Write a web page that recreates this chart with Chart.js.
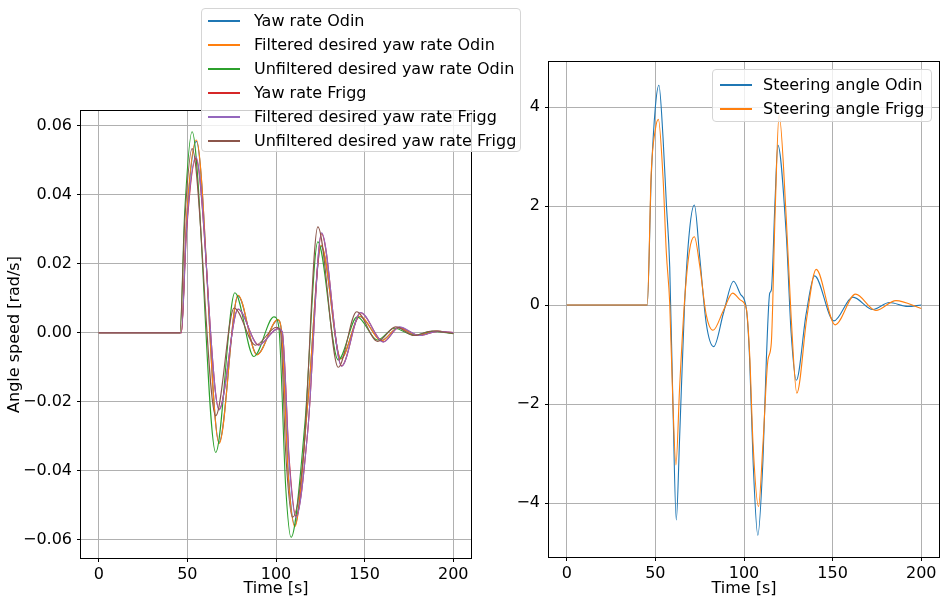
<!DOCTYPE html>
<html>
<head>
<meta charset="utf-8">
<script src="https://cdn.jsdelivr.net/npm/chart.js@4/dist/chart.umd.min.js"></script>
<style>
  body { margin: 0; width: 941px; height: 601px; background: #fff; overflow: hidden; font-family: "DejaVu Sans", sans-serif; }
  canvas { position: absolute; top: 0; }
  #leftChart { left: 0; }
  #rightChart { left: 480px; }
  .legend { position: absolute; background: rgba(255,255,255,0.8); border: 1px solid #d5d5d5; border-radius: 4px; box-sizing: border-box; z-index: 2; }
  .row { position: absolute; left: 0; height: 0; }
  .row .sw { position: absolute; width: 32px; height: 0; top: -1px; border-top: 2px solid; }
  .row span { position: absolute; top: -10px; font-size: 16px; line-height: 19px; white-space: nowrap; color: #000; }
</style>
</head>
<body>
<canvas id="leftChart" width="480" height="601"></canvas>
<canvas id="rightChart" width="461" height="601"></canvas>
<div id="legLeft" class="legend" style="left:201px; top:8px; width:320px; height:144px;"></div>
<div id="legRight" class="legend" style="left:712px; top:69px; width:220px; height:53px;"></div>
<script>
'use strict';

// time axes (s)
const xTicks = [0, 50, 100, 150, 200];
const leftYTicks = [-0.06, -0.04, -0.02, 0, 0.02, 0.04, 0.06];
const rightYTicks = [-4, -2, 0, 2, 4];

// left plot: yaw rates (rad/s)
const timeYawOdin = [0, 46.6, 49.5, 55.1, 67.9, 78.6, 89.3, 101.0, 103, 107, 110.6, 118, 125.5, 136.6, 147.3, 159.6, 168.9, 180, 190, 200];
const yawRateOdin = [0, 0, 0.032, 0.0555, -0.0318, 0.0107, -0.0063, 0.0037, 0.001, -0.041, -0.0558, -0.02, 0.0250, -0.0075, 0.0047, -0.0022, 0.0014, -0.0008, 0.0005, -0.0002];
const filtYawOdin = [0, 0, 0.033, 0.0559, -0.0321, 0.0109, -0.0064, 0.0038, 0.001, -0.042, -0.0562, -0.02, 0.0253, -0.0076, 0.0048, -0.0023, 0.0015, -0.0008, 0.0005, -0.0002];

const timeUnfOdin = [0, 45.8, 48.5, 52.7, 66.0, 76.8, 87.5, 98.8, 101.5, 105.5, 108.5, 116.3, 123.6, 135.1, 145.8, 157.3, 166.7, 178, 188, 200];
const unfYawOdin = [0, 0, 0.035, 0.0583, -0.0347, 0.0116, -0.0069, 0.0046, 0.002, -0.045, -0.0593, -0.0263, 0.0264, -0.0079, 0.0046, -0.0021, 0.0013, -0.0007, 0.0004, -0.0003];

const timeYawFrigg = [0, 46.6, 49.5, 54.8, 67.9, 78.6, 90.2, 101.2, 103.5, 107.5, 111.2, 118, 125.7, 137, 147.7, 160.6, 169.5, 181, 191, 200];
const yawRateFrigg = [0, 0, 0.029, 0.0505, -0.0222, 0.0068, -0.0035, 0.0012, 0.0003, -0.037, -0.0532, -0.028, 0.0287, -0.0096, 0.0058, -0.0026, 0.0016, -0.0008, 0.0004, 0.0001];
const filtYawFrigg = [0, 0, 0.03, 0.0510, -0.0224, 0.0069, -0.0036, 0.0012, 0.0003, -0.038, -0.0536, -0.028, 0.0290, -0.0097, 0.0059, -0.0027, 0.0017, -0.0008, 0.0004, 0.0001];

const timeUnfFrigg = [0, 45.8, 48.5, 52.7, 66.0, 76.4, 88.4, 100.3, 102.5, 105.5, 109.3, 115.4, 123.6, 135.1, 145.5, 157.3, 167.5, 178, 188, 200];
const unfYawFrigg = [0, 0, 0.032, 0.0534, -0.0241, 0.0072, -0.0036, 0.0016, 0.0005, -0.035, -0.0535, -0.036, 0.0307, -0.0100, 0.0061, -0.0025, 0.0017, -0.0008, 0.0005, -0.0002];

// right plot: steering angles
const timeSteerOdin = [0, 45.4, 47.7, 50, 52.0, 54.3, 56.2, 58.1, 59.9, 61.8, 63.7, 66.5, 69.3, 72.0, 75.0, 78.7, 82.9, 88.5, 94.1, 98, 101.3, 103.2, 105.1, 107.8, 110.7, 112.6, 114.5, 115.4, 117.5, 119.1, 123.8, 126.6, 129.5, 135.1, 139.8, 150.7, 161.4, 172.7, 182, 192.4, 200];
const steerOdin = [0, 0, 2.6, 4.0, 4.44, 3.40, 2.05, 0.77, -1.99, -4.34, -2.66, 0.03, 1.52, 2.02, 0.98, -0.37, -0.84, -0.15, 0.48, 0.22, -0.07, -1.11, -3.13, -4.65, -3.13, -1.11, 0.24, 0.30, 2.1, 3.23, 1.45, -0.57, -1.52, -0.17, 0.59, -0.32, 0.16, -0.09, 0.05, -0.03, 0.0];

const timeSteerFrigg = [0, 45.4, 47.7, 50, 51.7, 54.3, 56.2, 58.1, 59.9, 61.6, 63.7, 66.5, 69.3, 72.0, 75.0, 78.7, 82.5, 88.5, 93.6, 98, 101.3, 103.2, 105.1, 108.2, 110.7, 113.5, 115.4, 117.5, 119.8, 123.8, 126.6, 129.8, 135.5, 140.7, 151.4, 162.9, 174.4, 185.7, 200];
const steerFrigg = [0, 0, 2.7, 3.55, 3.75, 2.59, 1.05, 0.03, -1.99, -3.23, -1.65, 0.1, 1.11, 1.38, 0.8, -0.2, -0.51, -0.1, 0.24, 0.1, -0.07, -1.0, -2.8, -4.07, -2.8, -1.11, -0.77, 1.8, 3.84, 1.78, -0.24, -1.78, -0.24, 0.72, -0.40, 0.22, -0.11, 0.09, -0.07];

const leftNames = ['Yaw rate Odin', 'Filtered desired yaw rate Odin', 'Unfiltered desired yaw rate Odin',
  'Yaw rate Frigg', 'Filtered desired yaw rate Frigg', 'Unfiltered desired yaw rate Frigg'];
const rightNames = ['Steering angle Odin', 'Steering angle Frigg'];
const colors = ['#1f77b4', '#ff7f0e', '#2ca02c', '#d62728', '#9467bd', '#8c564b'];

Chart.defaults.font.family = '"DejaVu Sans", sans-serif';
Chart.defaults.font.size = 16;
Chart.defaults.color = '#000';

function pts(t, v) {
  return t.map((x, i) => ({ x: x, y: v[i] }));
}

function minus(v, dec) {
  const s = Math.abs(v).toFixed(dec);
  return v < 0 ? '\u2212' + s : s;
}

const frame = {
  id: 'frame',
  afterDraw(chart) {
    const { ctx, chartArea: a } = chart;
    ctx.save();
    ctx.strokeStyle = '#000';
    ctx.lineWidth = 1;
    ctx.strokeRect(a.left - 0.5, a.top - 0.5, a.right - a.left + 1, a.bottom - a.top + 1);
    ctx.restore();
  }
};

function makeChart(id, datasets, yMin, yMax, yTicks, yDec, yTitle, yWidth, xHeight, pad) {
  return new Chart(document.getElementById(id), {
    type: 'line',
    data: { datasets: datasets },
    options: {
      responsive: false,
      animation: false,
      devicePixelRatio: 1,
      layout: { padding: pad },
      plugins: { legend: { display: false }, tooltip: { enabled: false } },
      elements: { point: { radius: 0 }, line: { borderWidth: 1.1, cubicInterpolationMode: 'monotone' } },
      scales: {
        x: {
          type: 'linear', min: -10, max: 210,
          afterBuildTicks: s => { s.ticks = xTicks.map(v => ({ value: v })); },
          afterFit: s => { s.height = xHeight; },
          grid: { color: '#b0b0b0', lineWidth: 1, tickColor: '#000', tickLength: 4 },
          border: { display: false },
          ticks: { padding: 3, maxRotation: 0, callback: v => minus(v, 0) },
          title: { display: true, text: 'Time [s]', padding: { bottom: 3 } }
        },
        y: {
          type: 'linear', min: yMin, max: yMax,
          afterBuildTicks: s => { s.ticks = yTicks.map(v => ({ value: v })); },
          afterFit: s => { s.width = yWidth; },
          grid: { color: '#b0b0b0', lineWidth: 1, tickColor: '#000', tickLength: 4 },
          border: { display: false },
          ticks: { padding: 5, callback: v => minus(v, yDec) },
          title: { display: !!yTitle, text: yTitle, padding: { top: 5 } }
        }
      }
    },
    plugins: [frame]
  });
}

const leftSeries = [
  [timeYawOdin, yawRateOdin], [timeYawOdin, filtYawOdin], [timeUnfOdin, unfYawOdin],
  [timeYawFrigg, yawRateFrigg], [timeYawFrigg, filtYawFrigg], [timeUnfFrigg, unfYawFrigg]
];
const leftSets = leftSeries.map((s, i) => ({
  label: leftNames[i], data: pts(s[0], s[1]), borderColor: colors[i], order: leftSeries.length - i
}));
makeChart('leftChart', leftSets, -0.0653, 0.0643, leftYTicks, 2, 'Angle speed [rad/s]', 81, 43,
  { top: 111, right: 9, bottom: 0, left: 0 });

const rightSeries = [[timeSteerOdin, steerOdin], [timeSteerFrigg, steerFrigg]];
const rightSets = rightSeries.map((s, i) => ({
  label: rightNames[i], data: pts(s[0], s[1]), borderColor: colors[i], order: rightSeries.length - i
}));
makeChart('rightChart', rightSets, -5.09, 4.91, rightYTicks, 0, '', 69, 44,
  { top: 62, right: 2, bottom: 0, left: 0 });

function buildLegend(id, names, first, swLeft, textLeft) {
  const box = document.getElementById(id);
  names.forEach((n, i) => {
    const row = document.createElement('div');
    row.className = 'row';
    row.style.top = (first + 24 * i) + 'px';
    const sw = document.createElement('div');
    sw.className = 'sw';
    sw.style.left = swLeft + 'px';
    sw.style.borderTopColor = colors[i];
    const tx = document.createElement('span');
    tx.style.left = textLeft + 'px';
    tx.textContent = n;
    row.appendChild(sw);
    row.appendChild(tx);
    box.appendChild(row);
  });
}
buildLegend('legLeft', leftNames, 12, 6, 52);
buildLegend('legRight', rightNames, 15, 7, 50);
</script>
</body>
</html>
